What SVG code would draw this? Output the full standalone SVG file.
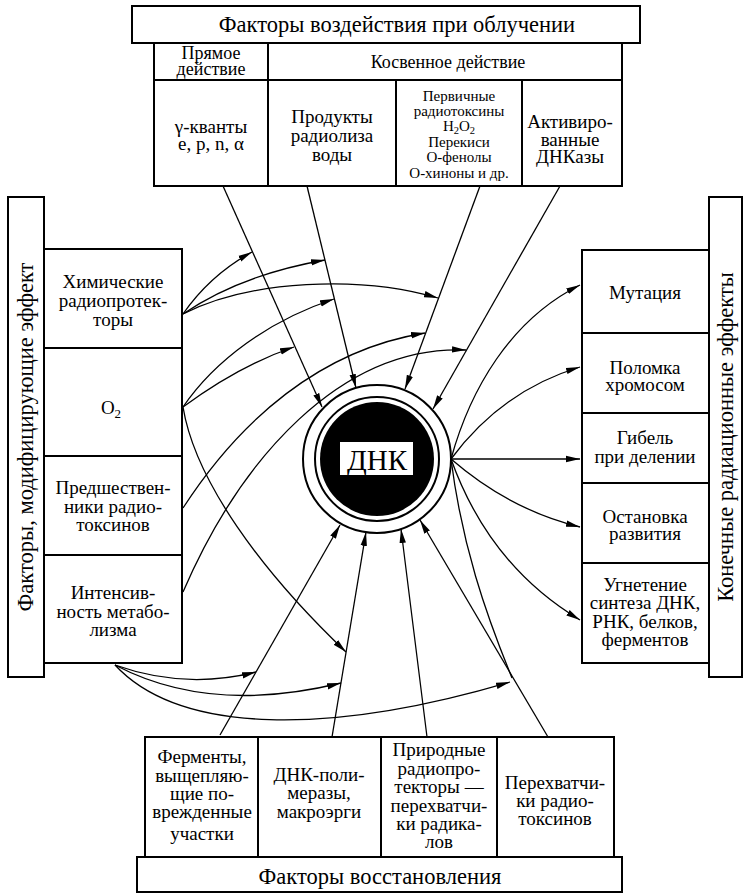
<svg xmlns="http://www.w3.org/2000/svg" width="746" height="895" viewBox="0 0 746 895">
<style>
.box{fill:#fff;stroke:#000;stroke-width:2}
.ln{fill:none;stroke:#000;stroke-width:1.3}
.ar{fill:none;stroke:#000;stroke-width:1.3;marker-end:url(#ah)}
text{font-family:"Liberation Serif","Times New Roman",serif;fill:#000;text-anchor:middle}
.t22{font-size:22.5px}
.t19{font-size:19px}
.t18{font-size:18px}
.t15{font-size:15px}
</style>
<defs>
<marker id="ah" markerUnits="userSpaceOnUse" markerWidth="15" markerHeight="8" refX="14" refY="4" orient="auto">
<path d="M0,0.8 L14,4 L0,7.2 Z" fill="#000"/>
</marker>
</defs>
<rect width="746" height="895" fill="#fff"/>

<g id="connectors">
<path class="ar" d="M223,186 L322,407"/>
<path class="ar" d="M307,186 L356,388"/>
<path class="ar" d="M480,186 L405,389"/>
<path class="ar" d="M560,186 L433,409"/>
<path class="ar" d="M220,735 L340,525"/>
<path class="ar" d="M332,737 L366,532"/>
<path class="ar" d="M427,737 L401,529"/>
<path class="ar" d="M548,737 L420,520"/>
<path class="ar" d="M183,314 Q210,275 252,252"/>
<path class="ar" d="M183,314 Q240,275 325,260"/>
<path class="ar" d="M183,314 C250,280 360,275 438,298"/>
<path class="ar" d="M183,407 C215,360 270,320 334,299"/>
<path class="ar" d="M183,407 Q240,365 294,347"/>
<path class="ar" d="M183,407 C195,480 260,570 346,652"/>
<path class="ar" d="M183,508 C240,420 320,350 425,333"/>
<path class="ar" d="M183,592 C240,460 340,345 466,350"/>
<path class="ar" d="M115,665 Q185,690 256,672"/>
<path class="ar" d="M115,665 Q210,715 341,683"/>
<path class="ar" d="M115,665 C180,735 330,735 510,682"/>
<path class="ar" d="M451,459 C470,390 510,320 580,285"/>
<path class="ar" d="M451,459 C480,420 520,385 580,367"/>
<path class="ar" d="M451,459 L580,459"/>
<path class="ar" d="M451,459 Q510,510 580,527"/>
<path class="ar" d="M451,459 C480,540 530,590 580,620"/>
<path class="ln" d="M451,459 C462,545 485,612 512,678"/>
</g>

<g id="top-title">
<rect class="box" x="132" y="6" width="508" height="37"/>
<text class="t22" x="397" y="32">Факторы воздействия при облучении</text>
</g>
<g id="top-direct-header">
<rect class="box" x="154" y="43" width="114" height="37"/>
<text class="t18" x="211" y="59">Прямое</text>
<text class="t18" x="211" y="75">действие</text>
</g>
<g id="top-indirect-header">
<rect class="box" x="268" y="43" width="354" height="37"/>
<text class="t18" x="448" y="68">Косвенное действие</text>
</g>
<g id="top-gamma">
<rect class="box" x="154" y="80" width="114" height="106"/>
<text class="t19" x="211" y="133">γ-кванты</text>
<text class="t19" x="211" y="150">e, p, n, α</text>
</g>
<g id="top-radiolysis">
<rect class="box" x="268" y="80" width="128" height="106"/>
<text class="t19" x="332" y="123">Продукты</text>
<text class="t19" x="332" y="142">радиолиза</text>
<text class="t19" x="332" y="161">воды</text>
</g>
<g id="top-toxins">
<rect class="box" x="396" y="80" width="126" height="106"/>
<text class="t15" x="459" y="101">Первичные</text>
<text class="t15" x="459" y="116">радиотоксины</text>
<text class="t15" x="459" y="131">H<tspan font-size="10.5" dy="3">2</tspan><tspan dy="-3">O</tspan><tspan font-size="10.5" dy="3">2</tspan></text>
<text class="t15" x="459" y="147">Перекиси</text>
<text class="t15" x="459" y="162">О-фенолы</text>
<text class="t15" x="459" y="178">О-хиноны и др.</text>
</g>
<g id="top-dnase">
<rect class="box" x="522" y="80" width="100" height="106"/>
<text class="t19" x="570" y="128">Активиро-</text>
<text class="t19" x="570" y="146">ванные</text>
<text class="t19" x="570" y="163">ДНКазы</text>
</g>

<g id="left-title">
<rect class="box" x="8" y="197" width="36" height="480"/>
<text class="t22" transform="translate(33,437) rotate(-90)">Факторы, модифицирующие эффект</text>
</g>
<g id="left-chem">
<rect class="box" x="44" y="249" width="138" height="99"/>
<text class="t19" x="113" y="288">Химические</text>
<text class="t19" x="113" y="307">радиопротек-</text>
<text class="t19" x="113" y="326">торы</text>
</g>
<g id="left-o2">
<rect class="box" x="44" y="348" width="138" height="108"/>
<text class="t19" x="111" y="414">O<tspan font-size="13" dy="4">2</tspan></text>
</g>
<g id="left-precursors">
<rect class="box" x="44" y="456" width="138" height="99"/>
<text class="t19" x="113" y="494">Предшествен-</text>
<text class="t19" x="113" y="513">ники радио-</text>
<text class="t19" x="113" y="531">токсинов</text>
</g>
<g id="left-metabolism">
<rect class="box" x="44" y="555" width="138" height="108"/>
<text class="t19" x="113" y="599">Интенсив-</text>
<text class="t19" x="113" y="618">ность метабо-</text>
<text class="t19" x="113" y="636">лизма</text>
</g>

<g id="right-title">
<rect class="box" x="709" y="197" width="33" height="480"/>
<text class="t22" transform="translate(733,437) rotate(-90)">Конечные радиационные эффекты</text>
</g>
<g id="right-mutation">
<rect class="box" x="582" y="250" width="127" height="83"/>
<text class="t19" x="645" y="299">Мутация</text>
</g>
<g id="right-chromosome">
<rect class="box" x="582" y="333" width="127" height="80"/>
<text class="t19" x="645" y="374">Поломка</text>
<text class="t19" x="645" y="391">хромосом</text>
</g>
<g id="right-death">
<rect class="box" x="582" y="413" width="127" height="70"/>
<text class="t19" x="645" y="444">Гибель</text>
<text class="t19" x="645" y="463">при делении</text>
</g>
<g id="right-arrest">
<rect class="box" x="582" y="483" width="127" height="80"/>
<text class="t19" x="645" y="523">Остановка</text>
<text class="t19" x="645" y="540">развития</text>
</g>
<g id="right-inhibition">
<rect class="box" x="582" y="563" width="127" height="100"/>
<text class="t19" x="645" y="591">Угнетение</text>
<text class="t19" x="645" y="609">синтеза ДНК,</text>
<text class="t19" x="645" y="628">РНК, белков,</text>
<text class="t19" x="645" y="646">ферментов</text>
</g>

<g id="dna">
<circle cx="377" cy="459" r="74" fill="#fff" stroke="#000" stroke-width="2"/>
<circle cx="377" cy="459" r="62" fill="#fff" stroke="#000" stroke-width="2"/>
<circle cx="377" cy="459" r="57" fill="#000"/>
<rect x="340" y="442" width="73" height="33" fill="#fff"/>
<text x="377" y="470" style="font-size:29px">ДНК</text>
</g>

<g id="bottom-enzymes">
<rect class="box" x="145" y="737" width="113" height="120"/>
<text class="t19" x="202" y="763">Ферменты,</text>
<text class="t19" x="202" y="782">выщепляю-</text>
<text class="t19" x="202" y="800">щие по-</text>
<text class="t19" x="202" y="818">врежденные</text>
<text class="t19" x="202" y="840">участки</text>
</g>
<g id="bottom-polymerases">
<rect class="box" x="258" y="737" width="123" height="120"/>
<text class="t19" x="319" y="781">ДНК-поли-</text>
<text class="t19" x="319" y="799">меразы,</text>
<text class="t19" x="319" y="818">макроэрги</text>
</g>
<g id="bottom-natural">
<rect class="box" x="381" y="737" width="116" height="120"/>
<text class="t19" x="439" y="756">Природные</text>
<text class="t19" x="439" y="775">радиопро-</text>
<text class="t19" x="439" y="793">текторы —</text>
<text class="t19" x="439" y="812">перехватчи-</text>
<text class="t19" x="439" y="830">ки радика-</text>
<text class="t19" x="439" y="848">лов</text>
</g>
<g id="bottom-interceptors">
<rect class="box" x="497" y="737" width="117" height="120"/>
<text class="t19" x="555" y="789">Перехватчи-</text>
<text class="t19" x="555" y="807">ки радио-</text>
<text class="t19" x="555" y="825">токсинов</text>
</g>
<g id="bottom-title">
<rect class="box" x="137" y="857" width="485" height="35"/>
<text class="t22" x="380" y="884">Факторы восстановления</text>
</g>
</svg>
